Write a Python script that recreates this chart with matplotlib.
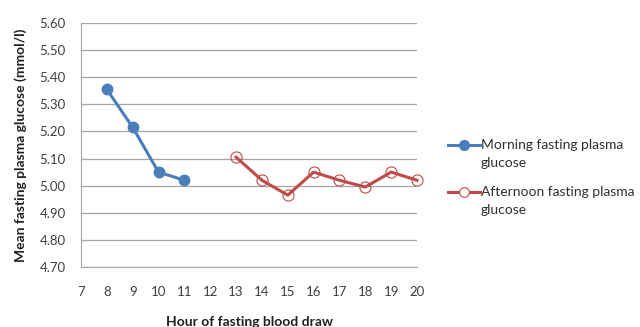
import matplotlib
matplotlib.use("Agg")
import matplotlib.pyplot as plt
from matplotlib.lines import Line2D

morning_hours = [8, 9, 10, 11]
morning_glucose = [5.355, 5.215, 5.05, 5.02]
afternoon_hours = [13, 14, 15, 16, 17, 18, 19, 20]
afternoon_glucose = [5.105, 5.02, 4.965, 5.05, 5.02, 4.995, 5.05, 5.02]
x_ticks = list(range(7, 21))
y_ticks = [4.70, 4.80, 4.90, 5.00, 5.10, 5.20, 5.30, 5.40, 5.50, 5.60]
legend_lines = [['Morning fasting plasma', 'glucose'], ['Afternoon fasting plasma', 'glucose']]

plt.rcParams['font.family'] = ['Lato', 'DejaVu Sans']
blue = '#4a7ebb'
red = '#be4b48'

W, H = 640, 327
fig = plt.figure(figsize=(6.4, 3.27), dpi=100)
ax = fig.add_axes([81 / W, 1 - 267 / H, (417 - 81) / W, (267 - 23) / H])

ax.plot(morning_hours, morning_glucose, color=blue, lw=2.2, marker='o', ms=7.5,
        markerfacecolor=blue, markeredgecolor=blue, zorder=3, clip_on=False)
ax.plot(afternoon_hours, afternoon_glucose, color=red, lw=2.2, marker='o', ms=8,
        markerfacecolor='none', markeredgecolor=red, markeredgewidth=0.8, zorder=3, clip_on=False)

ax.set_xlim(7, 20)
ax.set_ylim(4.70, 5.60)
ax.set_xticks(x_ticks)
ax.set_yticks(y_ticks)
ax.set_yticklabels([f"{v:.2f}" for v in y_ticks])
ax.tick_params(axis='both', length=0, labelsize=9.5, colors='#404040')
ax.tick_params(axis='x', pad=14)
ax.tick_params(axis='y', pad=11)
ax.grid(axis='y', color='#a6a6a6', lw=0.9)
ax.set_axisbelow(True)
for s in ['top', 'right']:
    ax.spines[s].set_visible(False)
ax.spines['left'].set_color('#a6a6a6')
ax.spines['bottom'].set_color('#a6a6a6')

ax.set_xlabel('Hour of fasting blood draw', fontsize=10, fontweight='bold', labelpad=13, color='#202020')
ax.set_ylabel('Mean fasting plasma glucose (mmol/l)', fontsize=10, fontweight='bold', labelpad=9, color='#202020')

# legend drawn manually (handle aligned with the first text line, like the reference)
entries = [(blue, blue, 145), (red, 'white', 192)]
for (col, face, ypx), lines in zip(entries, legend_lines):
    yf = 1 - ypx / H
    fig.add_artist(Line2D([448 / W, 480 / W], [yf, yf], transform=fig.transFigure,
                          color=col, lw=2.2))
    fig.add_artist(Line2D([464 / W], [yf], transform=fig.transFigure, marker='o', ms=7,
                          markerfacecolor=face, markeredgecolor=col,
                          markeredgewidth=0.8 if face == 'white' else 1))
    for i, t in enumerate(lines):
        fig.text(481 / W, 1 - (ypx + 18 * i) / H, t, fontsize=10, color='#303030',
                 va='center', ha='left')

fig.savefig('out.png', dpi=100)
